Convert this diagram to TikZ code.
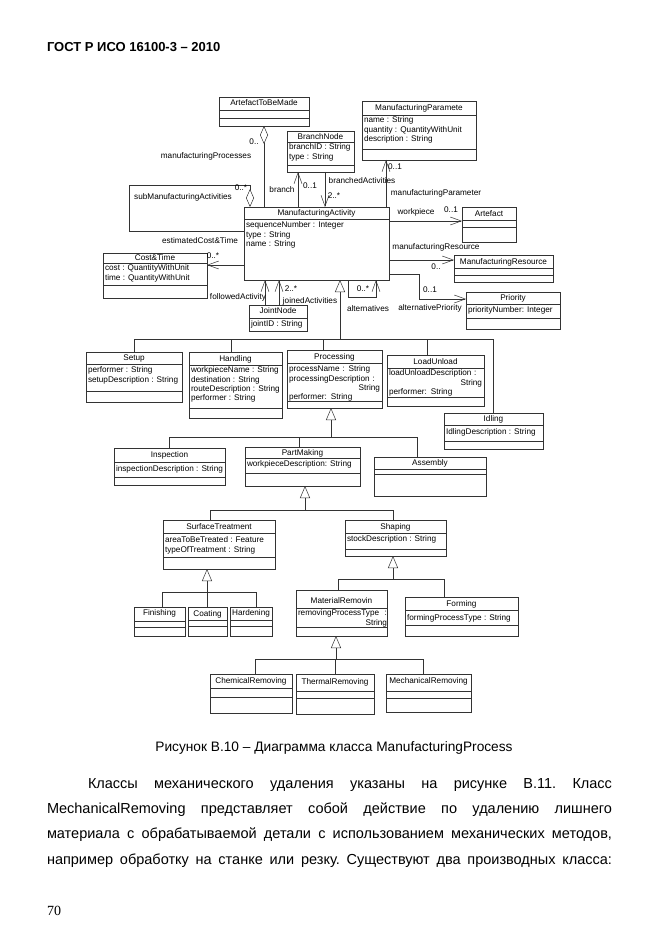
\documentclass[tikz,border=0pt]{standalone}
\usepackage{fontspec}
\setmainfont{Liberation Sans}
\newfontfamily\pagenumfont{Liberation Serif}
\usetikzlibrary{arrows.meta}

\begin{document}
\begin{tikzpicture}[x=1pt,y=-1pt]
\tikzstyle{every node}=[inner sep=0pt, outer sep=0pt];
\tikzstyle{cls}=[draw=black!80, line width=0.5pt, rectangle];
\tikzstyle{ttl}=[font=\fontsize{8.2}{9.3}\selectfont, text height=5.8pt, text depth=1.6pt];
\tikzstyle{attr}=[font=\fontsize{8.2}{9.3}\selectfont, align=left, anchor=north west];
\tikzstyle{lbl}=[font=\fontsize{8.2}{9.3}\selectfont, text height=5.8pt, text depth=1.6pt];
\tikzstyle{sep}=[draw=black!80, line width=0.5pt];
\tikzstyle{link}=[draw=black!80, line width=0.5pt];
\tikzstyle{nav}=[link, -{Straight Barb[length=11pt,width=8pt]}];
\tikzstyle{gen}=[link, {Triangle[open,length=12pt,width=10pt]}-];
\tikzstyle{aggr}=[link, {Diamond[open,length=18pt,width=8pt]}-];

\path[use as bounding box, fill=white] (0,0) rectangle (661,936);

\node[anchor=base west, font=\bfseries\fontsize{13}{15}\selectfont] (hdr) at (47,52) {ГОСТ Р ИСО 16100-3 – 2010};

\draw (264,111.5) node[cls, minimum width=90, minimum height=29] (atbm) {};
\node[ttl] at (264,103.5) {ArtefactToBeMade};
\draw[sep] (219,110) -- (309,110);
\draw[sep] (219,118) -- (309,118);

\draw (320.5,151.5) node[cls, minimum width=67, minimum height=41] (bn) {};
\node[ttl] at (320.5,137) {BranchNode};
\draw[sep] (287,142) -- (354,142);
\node[attr] at (289,144) {branchID : String\\type : String};
\draw[sep] (287,165) -- (354,165);

\draw (419,130.5) node[cls, minimum width=114, minimum height=59] (mp) {};
\node[ttl] at (419,108.5) {ManufacturingParamete};
\draw[sep] (362,115.5) -- (476,115.5);
\node[attr] at (364,117) {name : String\\quantity : QuantityWithUnit\\description : String};
\draw[sep] (362,149) -- (476,149);

\draw (316.5,243.5) node[cls, minimum width=145, minimum height=73] (ma) {};
\node[ttl] at (316.5,213.5) {ManufacturingActivity};
\draw[sep] (244,219.5) -- (389,219.5);
\node[attr] at (246,222) {sequenceNumber : Integer\\type : String\\name : String};

\draw (489,224.5) node[cls, minimum width=54, minimum height=35] (art) {};
\node[ttl] at (489,214) {Artefact};
\draw[sep] (462,220.5) -- (516,220.5);
\draw[sep] (462,227) -- (516,227);

\draw (503.5,268.5) node[cls, minimum width=99, minimum height=27] (mr) {};
\node[ttl] at (503.5,262) {ManufacturingResource};
\draw[sep] (454,268.5) -- (553,268.5);
\draw[sep] (454,275) -- (553,275);

\draw (513,310.5) node[cls, minimum width=94, minimum height=37] (pr) {};
\node[ttl] at (513,298) {Priority};
\draw[sep] (466,304) -- (560,304);
\node[attr] at (468,307) {priorityNumber: Integer};
\draw[sep] (466,318.5) -- (560,318.5);

\draw (155,275.5) node[cls, minimum width=104, minimum height=45] (ct) {};
\node[ttl] at (155,258) {Cost\&Time};
\draw[sep] (103,263.5) -- (207,263.5);
\node[attr] at (105,265) {cost : QuantityWithUnit\\time : QuantityWithUnit};
\draw[sep] (103,285) -- (207,285);

\draw (278,318) node[cls, minimum width=58, minimum height=26] (jn) {};
\node[ttl] at (278,311.5) {JointNode};
\draw[sep] (249,318) -- (307,318);
\node[attr] at (251,321) {jointID : String};

\draw (134,377) node[cls, minimum width=96, minimum height=50] (setup) {};
\node[ttl] at (134,358.5) {Setup};
\draw[sep] (86,364.5) -- (182,364.5);
\node[attr] at (88,367) {performer : String\\setupDescription : String};
\draw[sep] (86,391) -- (182,391);

\draw (235.5,385) node[cls, minimum width=93, minimum height=66] (hand) {};
\node[ttl] at (235.5,359) {Handling};
\draw[sep] (189,365.5) -- (282,365.5);
\node[attr] at (191,367) {workpieceName : String\\destination : String\\routeDescription : String\\performer : String};
\draw[sep] (189,408) -- (282,408);

\draw (334.5,379) node[cls, minimum width=95, minimum height=58] (proc) {};
\node[ttl] at (334.5,357) {Processing};
\draw[sep] (287,363) -- (382,363);
\node[attr, text width=91] at (289,366) {processName : String\\processingDescription :\\ \hfill String\\performer: String};
\draw[sep] (287,401) -- (382,401);

\draw (435.5,380.5) node[cls, minimum width=97, minimum height=51] (lu) {};
\node[ttl] at (435.5,362) {LoadUnload};
\draw[sep] (387,368.5) -- (484,368.5);
\node[attr, text width=93] at (389,370) {loadUnloadDescription :\\ \hfill String\\performer: String};
\draw[sep] (387,397) -- (484,397);

\draw (493.5,431) node[cls, minimum width=99, minimum height=36] (idl) {};
\node[ttl] at (493.5,419.5) {Idling};
\draw[sep] (444,425.5) -- (543,425.5);
\node[attr] at (446,429) {IdlingDescription : String};
\draw[sep] (444,441) -- (543,441);

\draw (169.5,466.5) node[cls, minimum width=111, minimum height=37] (insp) {};
\node[ttl] at (169.5,455.5) {Inspection};
\draw[sep] (114,462) -- (225,462);
\node[attr] at (116,466) {inspectionDescription : String};
\draw[sep] (114,477) -- (225,477);

\draw (302.5,466.5) node[cls, minimum width=115, minimum height=39] (pm) {};
\node[ttl] at (302.5,453) {PartMaking};
\draw[sep] (245,458.5) -- (360,458.5);
\node[attr] at (247,461) {workpieceDescription: String};
\draw[sep] (245,473) -- (360,473);

\draw (430,476.5) node[cls, minimum width=112, minimum height=39] (asm) {};
\node[ttl] at (430,463) {Assembly};
\draw[sep] (374,469) -- (486,469);
\draw[sep] (374,474) -- (486,474);

\draw (219,544.5) node[cls, minimum width=112, minimum height=49] (st) {};
\node[ttl] at (219,527) {SurfaceTreatment};
\draw[sep] (163,533) -- (275,533);
\node[attr] at (165,537) {areaToBeTreated : Feature\\typeOfTreatment : String};
\draw[sep] (163,557) -- (275,557);

\draw (395.5,538) node[cls, minimum width=101, minimum height=36] (sh) {};
\node[ttl] at (395.5,527) {Shaping};
\draw[sep] (345,533) -- (446,533);
\node[attr] at (347,536) {stockDescription : String};
\draw[sep] (345,549) -- (446,549);

\draw (341.5,613) node[cls, minimum width=91, minimum height=46] (mrm) {};
\node[ttl] at (341.5,601) {MaterialRemovin};
\draw[sep] (296,608) -- (387,608);
\node[attr, text width=89] at (298,610) {removingProcessType \hfill :\\ \hfill String};
\draw[sep] (296,627) -- (387,627);

\draw (461.5,616.5) node[cls, minimum width=113, minimum height=39] (frm) {};
\node[ttl] at (461.5,604) {Forming};
\draw[sep] (405,610) -- (518,610);
\node[attr] at (407,615) {formingProcessType : String};
\draw[sep] (405,625) -- (518,625);

\draw (159.5,621.5) node[cls, minimum width=51, minimum height=29] (fin) {};
\node[ttl] at (159.5,613.5) {Finishing};
\draw[sep] (134,621) -- (185,621);
\draw[sep] (134,627) -- (185,627);

\draw (207.5,621.5) node[cls, minimum width=39, minimum height=29] (coat) {};
\node[ttl] at (207.5,614) {Coating};
\draw[sep] (188,620.5) -- (227,620.5);
\draw[sep] (188,626) -- (227,626);

\draw (251,621.5) node[cls, minimum width=42, minimum height=29] (hard) {};
\node[ttl] at (251,613.5) {Hardening};
\draw[sep] (230,620.5) -- (272,620.5);
\draw[sep] (230,626) -- (272,626);

\draw (251,693.5) node[cls, minimum width=82, minimum height=39] (chem) {};
\node[ttl] at (251,681) {ChemicalRemoving};
\draw[sep] (210,688) -- (292,688);
\draw[sep] (210,697) -- (292,697);

\draw (335,694) node[cls, minimum width=78, minimum height=40] (therm) {};
\node[ttl] at (335,682) {ThermalRemoving};
\draw[sep] (296,691) -- (374,691);
\draw[sep] (296,698) -- (374,698);

\draw (428.5,693) node[cls, minimum width=85, minimum height=38] (mech) {};
\node[ttl] at (428.5,681) {MechanicalRemoving};
\draw[sep] (386,691) -- (471,691);
\draw[sep] (386,698) -- (471,698);

\coordinate (subA) at (129,185);
\coordinate (subB) at (129,231);
\coordinate (xbr) at (298,0);
\coordinate (xba) at (325,0);
\coordinate (xmp) at (386,0);
\coordinate (yart) at (0,221);
\coordinate (ymr) at (0,260);
\coordinate (ypr) at (0,274);
\coordinate (kpr) at (419,299);
\coordinate (xal) at (348,0);
\coordinate (kal) at (376,297);
\coordinate (xfa) at (265,0);
\coordinate (xja) at (279,0);
\coordinate (yct) at (0,265);

\draw[aggr] (atbm.south) -- (atbm.south |- ma.north);
\draw[aggr] ([xshift=6]ma.north west) |- (subA) -- (subB) -- (subB -| ma.west);
\draw[nav] (ma.north -| xbr) -- (bn.south -| xbr);
\draw[nav] (bn.south -| xba) -- (ma.north -| xba);
\draw[nav] (ma.north -| xmp) -- (mp.south -| xmp);
\draw[nav] (ma.east |- yart) -- (art.west |- yart);
\draw[nav] (ma.east |- ymr) -- (mr.west |- ymr);
\draw[nav] (ma.east |- ypr) -| (kpr) -- (pr.west |- kpr);
\draw[nav] (ma.south -| xal) |- (kal) -- (ma.south -| kal);
\draw[nav] (jn.north -| xfa) -- (ma.south -| xfa);
\draw[nav] (jn.north -| xja) -- (ma.south -| xja);
\draw[nav] (ma.west |- yct) -- (ct.east |- yct);

\node[lbl] at (254,142) {0..};
\node[lbl] at (206,156) {manufacturingProcesses};
\node[lbl] at (183,197) {subManufacturingActivities};
\node[lbl] at (241,188) {0..*};
\node[lbl] at (282,190) {branch};
\node[lbl] at (310,186) {0..1};
\node[lbl] at (362,181) {branchedActivities};
\node[lbl] at (334,196) {2..*};
\node[lbl] at (395,167) {0..1};
\node[lbl] at (436,193) {manufacturingParameter};
\node[lbl] at (416,212) {workpiece};
\node[lbl] at (451,210) {0..1};
\node[lbl] at (436,247) {manufacturingResource};
\node[lbl] at (436,267) {0..};
\node[lbl] at (430,290) {0..1};
\node[lbl] at (430,308) {alternativePriority};
\node[lbl] at (368,309) {alternatives};
\node[lbl] at (363,289) {0..*};
\node[lbl] at (200,241) {estimatedCost\&Time};
\node[lbl] at (213,256) {0..*};
\node[lbl] at (238,297) {followedActivity};
\node[lbl] at (291,289) {2..*};
\node[lbl] at (310,301) {joinedActivities};

\coordinate (g1) at (340,339);
\draw[gen] (ma.south -| g1) -- (g1);
\draw[link] (g1) -| (setup.north);
\draw[link] (g1) -| ([xshift=-4]hand.north);
\draw[link] (g1) -| ([xshift=-11]proc.north);
\draw[link] (g1) -| ([xshift=-8]lu.north);
\draw[link] (g1) -| (idl.north);

\coordinate (g2) at (331,437);
\draw[gen] (proc.south -| g2) -- (g2);
\draw[link] (g2) -| (insp.north);
\draw[link] (g2) -| ([xshift=-3]pm.north);
\draw[link] (g2) -| ([xshift=-13]asm.north);

\coordinate (g3) at (305,510);
\draw[gen] (pm.south -| g3) -- (g3);
\draw[link] (g3) -| ([xshift=-9]st.north);
\draw[link] (g3) -| ([xshift=-2]sh.north);

\coordinate (g4) at (393,579);
\draw[gen] (sh.south -| g4) -- (g4);
\draw[link] (g4) -| ([xshift=-3]mrm.north);
\draw[link] (g4) -| ([xshift=-17]frm.north);

\coordinate (g5) at (207,592);
\draw[gen] (st.south -| g5) -- (g5);
\draw[link] (g5) -| ([xshift=3]fin.north);
\draw[link] (g5) -| (coat.north);
\draw[link] (g5) -| ([xshift=5]hard.north);

\coordinate (g6) at (336,659);
\draw[gen] (mrm.south -| g6) -- (g6);
\draw[link] (g6) -| ([xshift=4]chem.north);
\draw[link] (g6) -| (therm.north);
\draw[link] (g6) -| ([xshift=-5]mech.north);

\node[anchor=base, font=\fontsize{13.7}{16}\selectfont] (cap) at (334,751) {Рисунок В.10 – Диаграмма класса ManufacturingProcess};

\node[anchor=base west, font=\fontsize{14.5}{17}\selectfont] (l1) at (88,788) {\frenchspacing\makebox[524pt][s]{Классы механического удаления указаны на рисунке В.11. Класс}};
\node[anchor=base west, font=\fontsize{14.5}{17}\selectfont] (l2) at (47,813) {\frenchspacing\makebox[565pt][s]{MechanicalRemoving представляет собой действие по удалению лишнего}};
\node[anchor=base west, font=\fontsize{14.5}{17}\selectfont] (l3) at (47,838) {\frenchspacing\makebox[565pt][s]{материала с обрабатываемой детали с использованием механических методов,}};
\node[anchor=base west, font=\fontsize{14.5}{17}\selectfont] (l4) at (47,864) {\frenchspacing\makebox[565pt][s]{например обработку на станке или резку. Существуют два производных класса:}};

\node[anchor=base west, font=\pagenumfont\fontsize{14}{16}\selectfont] (pnum) at (47,915) {70};

\end{tikzpicture}
\end{document}
